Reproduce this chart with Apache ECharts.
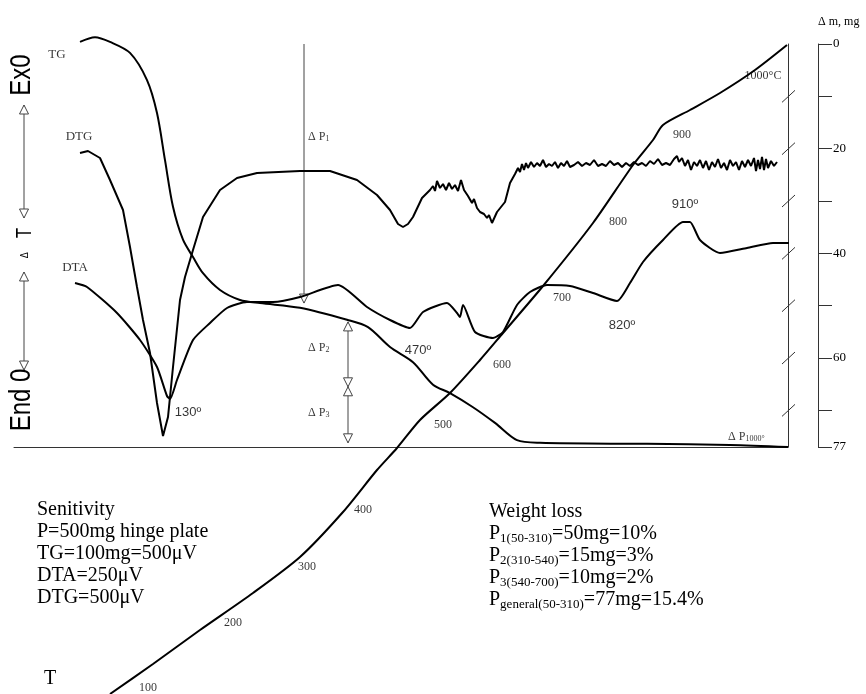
<!DOCTYPE html>
<html><head><meta charset="utf-8">
<script src="https://cdn.jsdelivr.net/npm/echarts@6/dist/echarts.min.js"></script>
<style>html,body{margin:0;padding:0;background:#fff}#c{width:866px;height:694px}</style>
</head><body><div id="c"></div>
<script>
// x: time (chart units 0..774), signal axis: chart units 0..403, TG on mass axis (mg, 0..77)
const tg = [[66,-0.4],[81,-1.3],[96,-0.4],[116,1.7],[133,6.9],[143,13.2],[151,22.2],[159,31.1],[169,37.4],[179,40.7],[189,43.8],[206,47.0],[226,48.9],[246,49.5],[286,50.4],[333,52.7],[354,54.1],[376,57.9],[399,60.8],[419,65.1],[436,66.7],[459,69.4],[481,72.4],[503,75.7],[526,76.2],[633,76.4],[716,76.6],[774,77.0]];
const dtg = [[66,294],[74,296],[86,289],[96,267],[109,237],[116,200],[123,160],[129,127],[136,94],[143,44],[149,11],[154,30],[159,80],[166,147],[171,170],[179,197],[189,230],[206,257],[223,269],[243,274],[286,276],[316,276],[343,267],[363,252],[376,237],[384,223],[389,220],[394,223],[399,230],[408,249],[416,257],[419,261],[421,256],[423,266],[426,259],[429,263],[432,257],[435,264],[438,258],[441,262],[444,256],[447,267],[450,257],[454,251],[458,244],[460,248],[463,239],[466,235],[470,233],[473,229],[475,232],[478,224],[483,235],[491,245],[496,264],[501,273],[504,279],[506,275],[508,283],[510,277],[512,284],[514,279],[517,285],[520,280],[523,284],[526,281],[529,287],[532,280],[535,283],[538,281],[541,285],[544,279],[547,284],[550,281],[553,286],[556,280],[560,282],[564,285],[568,281],[572,284],[576,282],[580,287],[584,281],[588,283],[592,281],[596,286],[600,282],[604,284],[608,280],[612,284],[616,281],[620,285],[624,282],[628,284],[632,281],[636,286],[640,283],[644,288],[648,282],[652,284],[656,282],[660,288],[663,291],[665,285],[668,289],[671,281],[674,287],[677,277],[680,285],[683,281],[686,287],[689,279],[692,286],[695,277],[698,285],[701,280],[704,288],[707,279],[710,284],[713,277],[716,287],[719,281],[722,285],[725,277],[728,286],[731,280],[734,287],[737,281],[740,289],[742,276],[744,287],[746,278],[748,290],[750,277],[752,288],[754,279],[757,286],[760,281],[763,285]];
const dta = [[61,164],[73,160],[103,134],[126,107],[143,80],[153,51],[156,48],[163,67],[179,107],[196,124],[213,139],[233,145],[259,145],[286,150],[324,162],[353,140],[376,127],[396,119],[409,135],[433,144],[443,134],[446,130],[449,142],[461,115],[479,109],[489,115],[503,142],[516,155],[533,162],[556,161],[579,154],[603,146],[616,164],[629,185],[649,207],[669,225],[676,225],[686,207],[706,194],[733,199],[759,204],[776,204],[783,202]];
const tCurve = [[96,-247],[139,-217],[186,-183],[239,-146],[286,-110],[329,-65],[363,-23],[383,-1],[406,27],[436,54],[466,87],[489,114],[529,161],[579,224],[619,282],[639,307],[649,322],[676,337],[706,354],[741,377],[773,402]];
const tLabels = ['100','200','300','400','500','600','700','800','900','1000°C'];
const tLabelPos = [[134,-241],[219,-176],[293,-120],[349,-63],[429,22],[488,82],[548,149],[604,225],[668,312],[749,371]];
const curveNames = ['TG','DTG','DTA'];
const curveNamePos = [[43,392],[65,310],[61,179]];
const peakLabels = ['130º','470º','820º','910º'];
const peakPos = [[174,35],[404,97],[608,122],[671,243]];
const dpLabels = ['{a|Δ P}{s|1}','{a|Δ P}{s|2}','{a|Δ P}{s|3}','{a|Δ P}{s|1000°}'];
const dpPos = [[294,310],[294,99],[294,34],[714,10]];
// arrows on mass axis: [time, from mg, to mg, head at start, head at end]
const massArrows = [[290,0,49.5,0,1],[334,53.1,65.5,1,1],[334,65.5,76.2,1,1]];
// ΔT arrows on signal axis
const signalArrows = [[10,342,229,1,1],[10,175,77,1,1]];
const breakMarks = [10,20,30,40,50,60,70];
const massTicks = [0,20,40,60,77];

const chart = echarts.init(document.getElementById('c'), null, {renderer:'canvas'});
function arrowRender(params, api){
  const t=api.value(0), a=api.value(1), b=api.value(2), hs=api.value(3), he=api.value(4);
  const p1=api.coord([t,a]), p2=api.coord([t,b]);
  const s = p2[1]>p1[1]?1:-1, w=4.5, h=9;
  const st={stroke:'#444',lineWidth:1};
  const ch=[{type:'line',shape:{x1:p1[0],y1:p1[1],x2:p2[0],y2:p2[1]},style:st}];
  if(he) ch.push({type:'polygon',shape:{points:[[p2[0],p2[1]],[p2[0]-w,p2[1]-s*h],[p2[0]+w,p2[1]-s*h]]},style:{fill:'#fff',stroke:'#444',lineWidth:1}});
  if(hs) ch.push({type:'polygon',shape:{points:[[p1[0],p1[1]],[p1[0]-w,p1[1]+s*h],[p1[0]+w,p1[1]+s*h]]},style:{fill:'#fff',stroke:'#444',lineWidth:1}});
  return {type:'group',children:ch};
}
function mkLabels(texts,pos,align){
  return pos.map((p,i)=>({value:p,label:{formatter:texts[i],align:align||'center'}}));
}
const serif='"Liberation Serif", "Times New Roman", serif';
const sans='"Liberation Sans", Arial, sans-serif';
const lineBase={type:'line',symbol:'none',clip:false,lineStyle:{color:'#000',width:2},silent:true,z:3};
const labelBase={type:'scatter',yAxisIndex:1,silent:true,clip:false,symbolSize:1,itemStyle:{color:'transparent'},z:5};
chart.setOption({
  animation:false,
  backgroundColor:'#fff',
  grid:{left:14,right:78,top:44,bottom:247},
  xAxis:{type:'value',min:0,max:774,axisLine:{show:true,onZero:false,lineStyle:{color:'#333',width:1}},axisTick:{show:false},axisLabel:{show:false},splitLine:{show:false}},
  yAxis:[
    {type:'value',min:0,max:77,interval:10,inverse:true,position:'right',offset:30,
     name:'Δ m, mg',nameLocation:'start',nameGap:22,nameTextStyle:{fontFamily:serif,fontSize:12,color:'#000',align:'left',verticalAlign:'middle'},
     axisLine:{show:true,onZero:false,lineStyle:{color:'#333',width:1}},axisTick:{show:true,length:14,lineStyle:{color:'#333'}},
     axisLabel:{margin:15,fontFamily:serif,fontSize:13,color:'#000',formatter:v=>massTicks.includes(v)?String(v):''},splitLine:{show:false}},
    {type:'value',min:0,max:403,position:'right',offset:0,axisLine:{show:true,onZero:false,lineStyle:{color:'#333',width:1}},axisTick:{show:false},axisLabel:{show:false},splitLine:{show:false}}
  ],
  graphic:[
    {type:'text',x:22,y:75,rotation:Math.PI/2,scaleY:1.2,style:{text:'Ex0',font:'24px '+sans,fill:'#000',align:'center',verticalAlign:'middle'}},
    {type:'text',x:22,y:400,rotation:Math.PI/2,scaleY:1.2,style:{text:'End 0',font:'24px '+sans,fill:'#000',align:'center',verticalAlign:'middle'}},
    {type:'text',x:25,y:243,rotation:Math.PI/2,scaleY:1.3,style:{text:'{d|Δ}{t|T}',align:'center',verticalAlign:'middle',rich:{d:{fontFamily:sans,fontSize:9,fill:'#000',padding:[0,14,0,0]},t:{fontFamily:sans,fontSize:17,fill:'#000'}}}},
    {type:'text',x:37,y:499,style:{text:'Senitivity\nP=500mg hinge plate\nTG=100mg=500μV\nDTA=250μV\nDTG=500μV',font:'20px '+serif,lineHeight:22,fill:'#000',verticalAlign:'top'}},
    {type:'text',x:489,y:501,style:{text:'{b|Weight loss}\n{b|P}{s|1(50-310)}{b|=50mg=10%}\n{b|P}{s|2(310-540)}{b|=15mg=3%}\n{b|P}{s|3(540-700)}{b|=10mg=2%}\n{b|P}{s|general(50-310)}{b|=77mg=15.4%}',verticalAlign:'top',
      rich:{b:{fontFamily:serif,fontSize:20,lineHeight:22,fill:'#000'},s:{fontFamily:serif,fontSize:13,lineHeight:16,verticalAlign:'bottom',fill:'#000'}}}},
    {type:'text',x:50,y:679,style:{text:'T',font:'20px '+serif,fill:'#000',align:'center',verticalAlign:'middle'}}
  ],
  series:[
    Object.assign({},lineBase,{name:'TG',yAxisIndex:0,smooth:0.3,data:tg}),
    Object.assign({},lineBase,{name:'DTG',yAxisIndex:1,smooth:false,data:dtg}),
    Object.assign({},lineBase,{name:'DTA',yAxisIndex:1,smooth:0.2,data:dta}),
    Object.assign({},lineBase,{name:'T',yAxisIndex:1,smooth:0.25,data:tCurve}),
    {type:'custom',yAxisIndex:0,clip:false,silent:true,renderItem:arrowRender,data:massArrows,z:2},
    {type:'custom',yAxisIndex:1,clip:false,silent:true,renderItem:arrowRender,data:signalArrows,z:2},
    {type:'custom',yAxisIndex:0,clip:false,silent:true,data:breakMarks.map(m=>[774,m]),z:2,
     renderItem:(p,api)=>{const c=api.coord([api.value(0),api.value(1)]);return {type:'line',shape:{x1:c[0]-6,y1:c[1]+6,x2:c[0]+7,y2:c[1]-6},style:{stroke:'#333',lineWidth:1}};}},
    Object.assign({},labelBase,{label:{show:true,position:'inside',fontFamily:serif,fontSize:13,color:'#000'},data:mkLabels(curveNames,curveNamePos)}),
    Object.assign({},labelBase,{label:{show:true,position:'inside',fontFamily:sans,fontSize:13,color:'#000'},data:mkLabels(peakLabels,peakPos)}),
    Object.assign({},labelBase,{label:{show:true,position:'inside',fontFamily:serif,fontSize:12,color:'#000'},data:mkLabels(tLabels,tLabelPos)}),
    Object.assign({},labelBase,{label:{show:true,position:'inside',color:'#000',rich:{a:{fontFamily:serif,fontSize:12,color:'#000'},s:{fontFamily:serif,fontSize:8,color:'#000',verticalAlign:'bottom',lineHeight:12}}},
     data:mkLabels(dpLabels,dpPos,'left')})
  ]
});
</script></body></html>
